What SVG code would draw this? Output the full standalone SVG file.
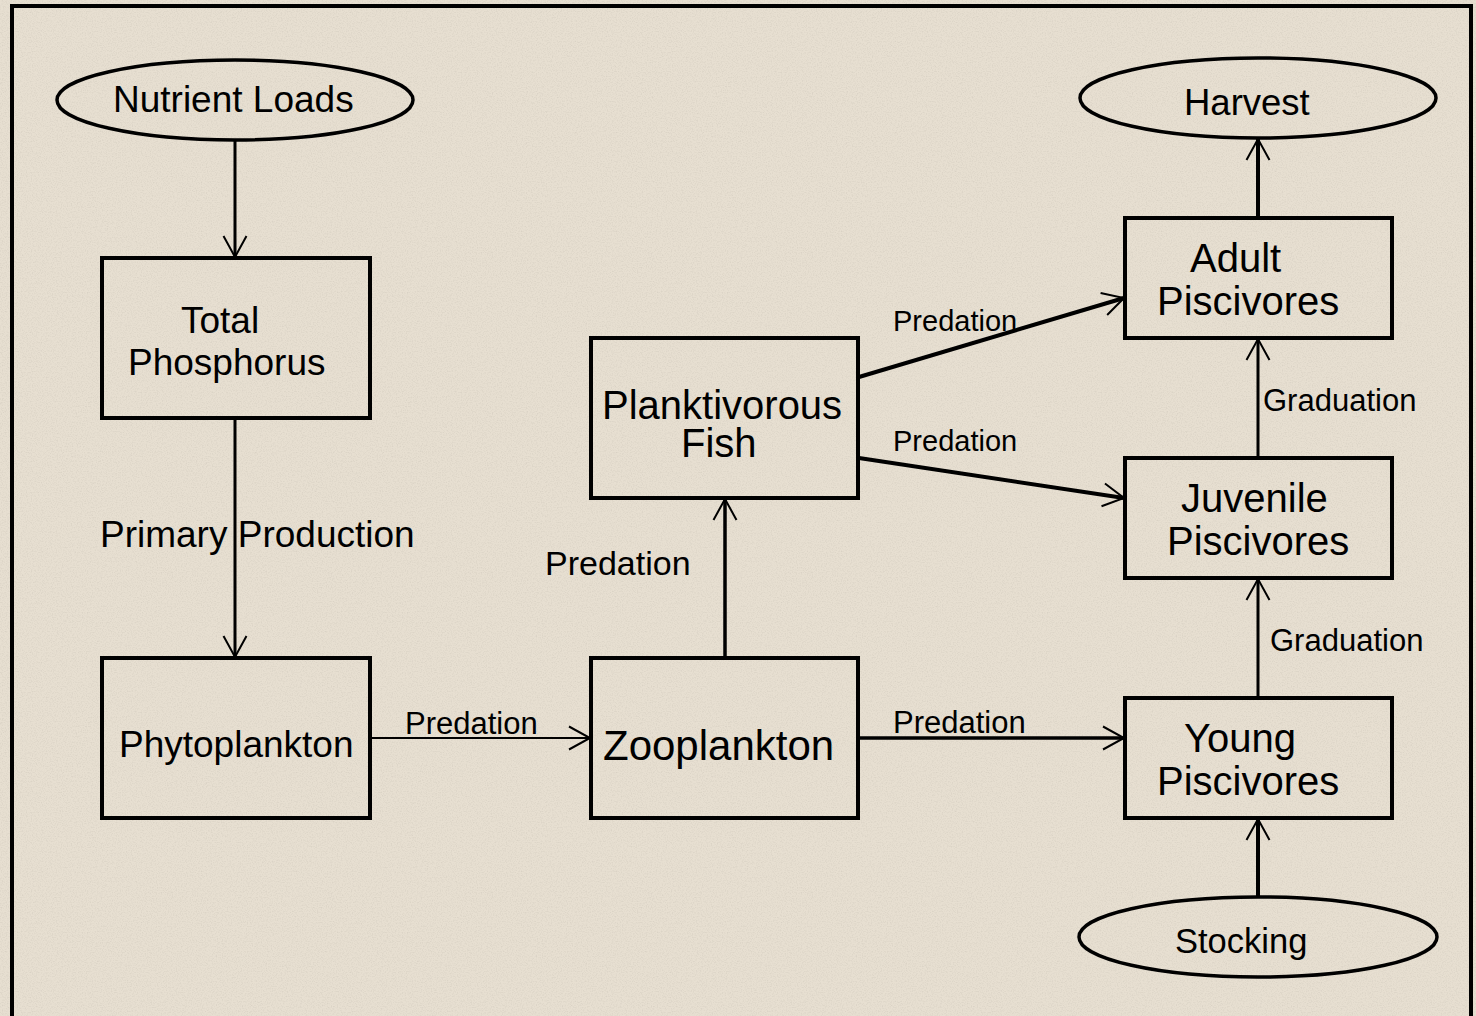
<svg xmlns="http://www.w3.org/2000/svg" width="1476" height="1016" viewBox="0 0 1476 1016">
<style>
.node{fill:none;stroke:#000;stroke-width:4}
.ell{fill:none;stroke:#000;stroke-width:3.5}
.t{font-family:"Liberation Sans",Arial,sans-serif;fill:#000}
.c{stroke:#000;fill:none}
</style>
<defs>
<marker id="arr" markerUnits="userSpaceOnUse" markerWidth="30" markerHeight="30" viewBox="-24 -15 30 30" refX="0" refY="0" orient="auto">
<path d="M-21,-11.5 L0,0 L-21,11.5" fill="none" stroke="#000" stroke-width="2"/>
</marker>
<filter id="noise" x="0" y="0" width="100%" height="100%">
<feTurbulence type="fractalNoise" baseFrequency="0.8" numOctaves="2" seed="3"/>
<feColorMatrix type="matrix" values="0 0 0 0 0.5  0 0 0 0 0.46  0 0 0 0 0.4  0 0 0 -2.2 1.25"/>
</filter>
</defs>
<rect x="0" y="0" width="1476" height="1016" fill="#E7DFD1"/>
<rect x="0" y="0" width="1476" height="1016" filter="url(#noise)" opacity="0.3"/>
<rect x="12" y="6" width="1459" height="1030" fill="none" stroke="#000" stroke-width="4"/>

<g id="connectors">
<line class="c" x1="235" y1="140" x2="235" y2="257" stroke-width="3" marker-end="url(#arr)"/>
<line class="c" x1="235" y1="418" x2="235" y2="657" stroke-width="3" marker-end="url(#arr)"/>
<line class="c" x1="370" y1="738" x2="590" y2="738" stroke-width="2" marker-end="url(#arr)"/>
<line class="c" x1="858" y1="738" x2="1124" y2="738" stroke-width="3.5" marker-end="url(#arr)"/>
<line class="c" x1="725" y1="658" x2="725" y2="499" stroke-width="3.5" marker-end="url(#arr)"/>
<line class="c" x1="859" y1="377" x2="1124" y2="298" stroke-width="4" marker-end="url(#arr)"/>
<line class="c" x1="859" y1="458" x2="1124" y2="498" stroke-width="4" marker-end="url(#arr)"/>
<line class="c" x1="1258" y1="698" x2="1258" y2="579" stroke-width="3" marker-end="url(#arr)"/>
<line class="c" x1="1258" y1="458" x2="1258" y2="339" stroke-width="3" marker-end="url(#arr)"/>
<line class="c" x1="1258" y1="218" x2="1258" y2="139" stroke-width="4" marker-end="url(#arr)"/>
<line class="c" x1="1258" y1="897" x2="1258" y2="819" stroke-width="4" marker-end="url(#arr)"/>
<text class="t" x="100" y="547" font-size="37">Primary Production</text>
<text class="t" x="405" y="734" font-size="31">Predation</text>
<text class="t" x="893" y="733" font-size="31">Predation</text>
<text class="t" x="545" y="575" font-size="34">Predation</text>
<text class="t" x="893" y="331" font-size="29">Predation</text>
<text class="t" x="893" y="451" font-size="29">Predation</text>
<text class="t" x="1263" y="411" font-size="31">Graduation</text>
<text class="t" x="1270" y="651" font-size="31">Graduation</text>
</g>

<g id="nutrient-loads">
<ellipse class="ell" cx="235" cy="100" rx="178" ry="40"/>
<text class="t" x="113" y="112" font-size="37">Nutrient Loads</text>
</g>
<g id="total-phosphorus">
<rect class="node" x="102" y="258" width="268" height="160"/>
<text class="t" x="181" y="333" font-size="37">Total</text>
<text class="t" x="128" y="375" font-size="37">Phosphorus</text>
</g>
<g id="phytoplankton">
<rect class="node" x="102" y="658" width="268" height="160"/>
<text class="t" x="119" y="757" font-size="37">Phytoplankton</text>
</g>
<g id="zooplankton">
<rect class="node" x="591" y="658" width="267" height="160"/>
<text class="t" x="603" y="760" font-size="42">Zooplankton</text>
</g>
<g id="planktivorous-fish">
<rect class="node" x="591" y="338" width="267" height="160"/>
<text class="t" x="602" y="419" font-size="40">Planktivorous</text>
<text class="t" x="681" y="457" font-size="40">Fish</text>
</g>
<g id="adult-piscivores">
<rect class="node" x="1125" y="218" width="267" height="120"/>
<text class="t" x="1190" y="272" font-size="40">Adult</text>
<text class="t" x="1157" y="315" font-size="40">Piscivores</text>
</g>
<g id="juvenile-piscivores">
<rect class="node" x="1125" y="458" width="267" height="120"/>
<text class="t" x="1181" y="512" font-size="40">Juvenile</text>
<text class="t" x="1167" y="555" font-size="40">Piscivores</text>
</g>
<g id="young-piscivores">
<rect class="node" x="1125" y="698" width="267" height="120"/>
<text class="t" x="1184" y="752" font-size="40">Young</text>
<text class="t" x="1157" y="795" font-size="40">Piscivores</text>
</g>
<g id="harvest">
<ellipse class="ell" cx="1258" cy="98" rx="178" ry="40"/>
<text class="t" x="1184" y="115" font-size="36.5">Harvest</text>
</g>
<g id="stocking">
<ellipse class="ell" cx="1258" cy="937" rx="179" ry="40"/>
<text class="t" x="1175" y="953" font-size="34.5">Stocking</text>
</g>
</svg>
